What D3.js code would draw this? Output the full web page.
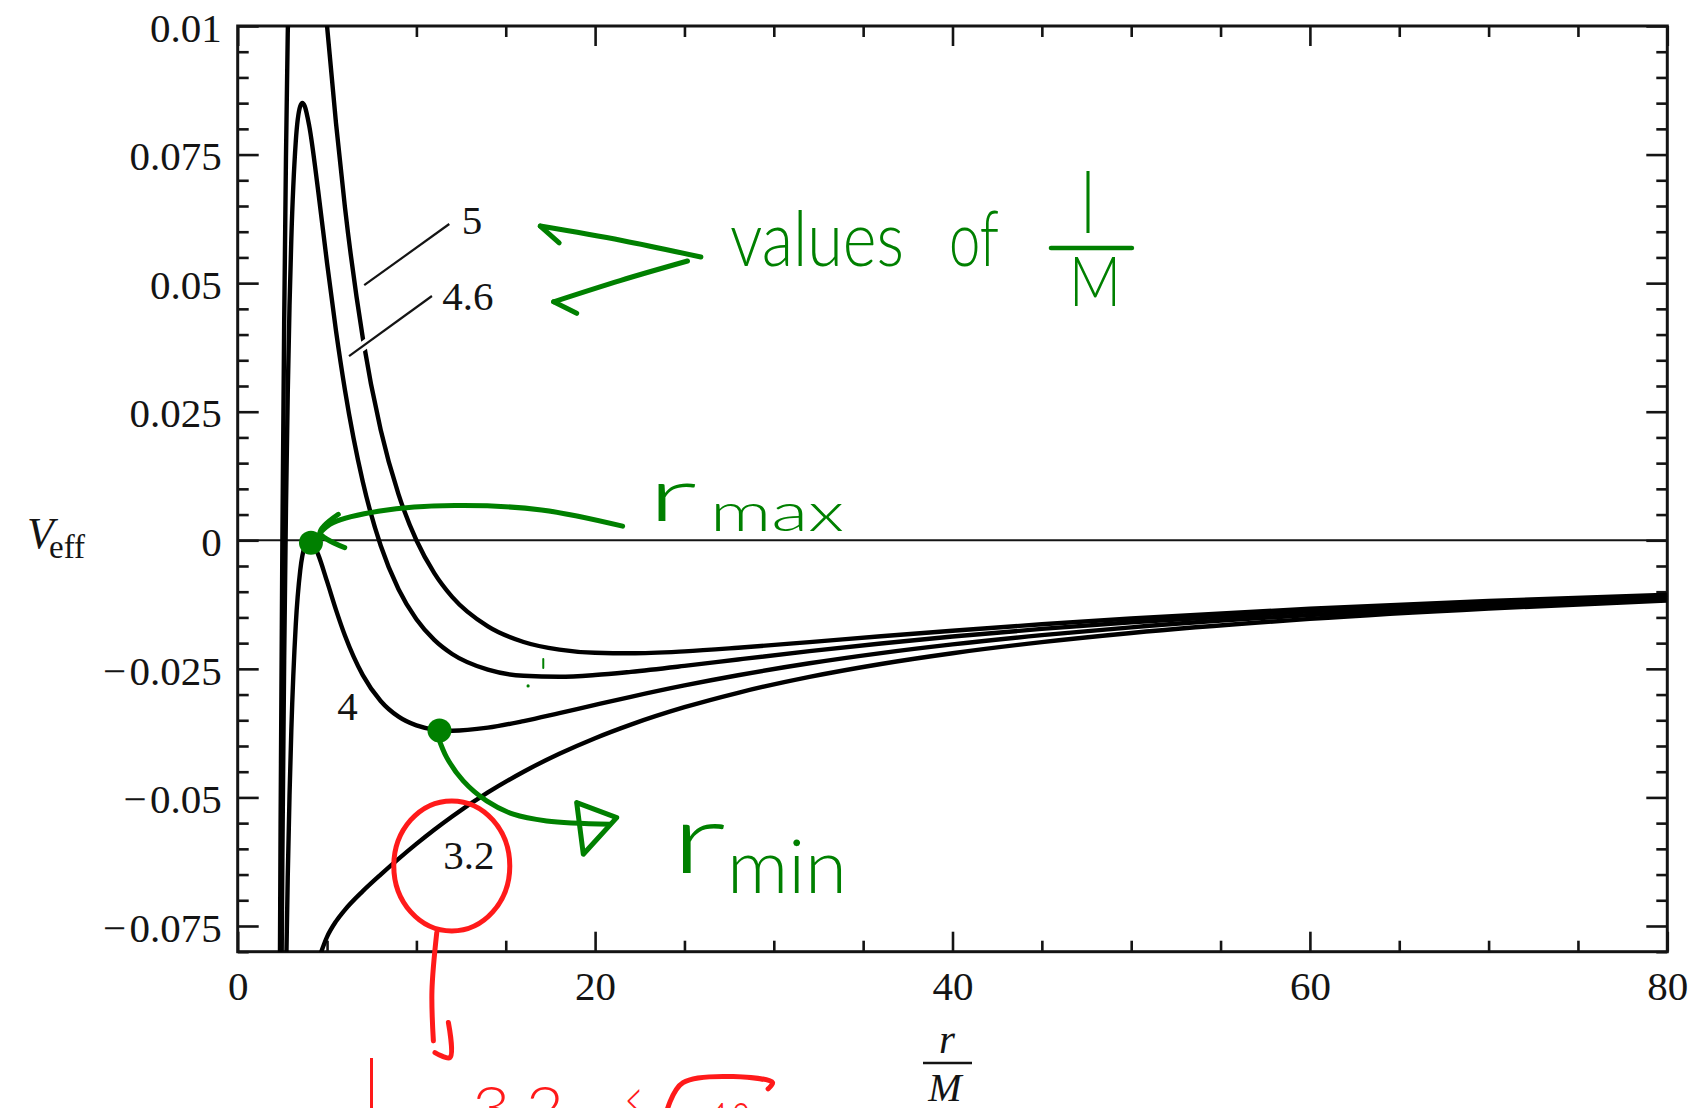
<!DOCTYPE html>
<html>
<head>
<meta charset="utf-8">
<script src="https://cdn.jsdelivr.net/npm/d3@7"></script>
<style>
  html, body { margin: 0; padding: 0; background: #fff; }
  svg { display: block; }
</style>
</head>
<body>
<svg id="chart" width="1698" height="1108"></svg>
<script>
// ---------------- DATA ----------------
// angular momentum values l/M labelling the curves
const curveNames = ["5", "4.6", "4", "3.2"];

// l/M = 5
const r5 = [2.3, 2.4, 2.5, 2.6, 2.7, 2.8, 2.9, 3, 3.25, 3.5, 3.75, 4, 4.5, 5, 5.5, 6, 7, 8, 9, 10, 11, 12, 14, 16, 18, 20, 22, 25, 28, 32, 36, 40, 45, 50, 60, 70, 80];
const v5 = [-0.12658, -0.05498, 0, 0.04210, 0.07418, 0.09840, 0.11645, 0.12963, 0.14747, 0.15160, 0.14815, 0.14063, 0.12072, 0.1, 0.08113, 0.06481, 0.03937, 0.02149, 0.00892, 0, -0.00638, -0.01101, -0.01675, -0.01978, -0.02126, -0.02188, -0.02198, -0.0216, -0.0209, -0.0198, -0.01866, -0.01758, -0.01632, -0.0152, -0.01331, -0.01181, -0.0106];

// l/M = 4.6
const r46 = [2.4, 2.5, 2.6, 2.7, 2.8, 2.9, 3, 3.25, 3.5, 3.62, 3.75, 4, 4.5, 5, 5.5, 6, 7, 8, 9, 10, 11, 12, 14, 16, 18, 20, 22, 25, 28, 32, 36, 40, 45, 50, 60, 70, 80];
const v46 = [-0.11054, -0.06144, -0.02345, 0.00589, 0.02842, 0.0456, 0.05852, 0.07756, 0.08443, 0.08506, 0.08443, 0.08063, 0.06804, 0.05392, 0.04074, 0.02925, 0.01138, -0.00102, -0.00952, -0.01536, -0.01937, -0.02211, -0.02516, -0.02634, -0.02653, -0.0262, -0.02558, -0.02443, -0.02318, -0.02156, -0.02007, -0.01872, -0.01723, -0.01594, -0.01383, -0.01219, -0.01089];

// l/M = 4
const r4 = [2.6, 2.7, 2.8, 2.9, 3, 3.25, 3.5, 3.75, 4, 4.25, 4.5, 5, 5.5, 6, 7, 8, 9, 10, 11, 12, 14, 16, 18, 20, 22, 25, 28, 32, 36, 40, 45, 50, 60, 70, 80];
const v4 = [-0.11152, -0.08586, -0.0656, -0.04961, -0.03704, -0.01639, -0.00583, -0.00119, 0, -0.00082, -0.00274, -0.008, -0.01353, -0.01852, -0.02623, -0.03125, -0.0343, -0.036, -0.03681, -0.03704, -0.03644, -0.03516, -0.0336, -0.032, -0.03043, -0.02822, -0.02624, -0.02392, -0.02194, -0.02025, -0.01845, -0.01693, -0.01452, -0.0127, -0.01128];

// l/M = 3.2
const r32 = [4.5, 5, 5.5, 6, 7, 8, 9, 10, 11, 12, 14, 16, 18, 20, 22, 25, 28, 32, 36, 40, 45, 50, 60, 70, 80];
const v32 = [-0.08176, -0.07712, -0.07411, -0.07185, -0.06822, -0.065, -0.06195, -0.05904, -0.05629, -0.0537, -0.04904, -0.045, -0.04151, -0.03848, -0.03584, -0.03246, -0.02965, -0.02656, -0.02405, -0.02196, -0.01981, -0.01803, -0.01529, -0.01327, -0.01172];

// axis ticks and labels
const xMajorTicks = [0, 20, 40, 60, 80];
const xMajorLabels = ["0", "20", "40", "60", "80"];
const xMinorTicks = [5, 10, 15, 25, 30, 35, 45, 50, 55, 65, 70, 75];
const yMajorTicks = [-0.075, -0.05, -0.025, 0, 0.025, 0.05, 0.075, 0.1];
const yMajorLabels = ["\u2212\u200a0.075", "\u2212\u200a0.05", "\u2212\u200a0.025", "0", "0.025", "0.05", "0.075", "0.01"];
const yMinorTicks = [-0.08, -0.07, -0.065, -0.06, -0.055, -0.045, -0.04, -0.035, -0.03, -0.02, -0.015, -0.01, -0.005,
                     0.005, 0.01, 0.015, 0.02, 0.03, 0.035, 0.04, 0.045, 0.055, 0.06, 0.065, 0.07, 0.08, 0.085, 0.09, 0.095];

// ---------------- LAYOUT ----------------
const svg = d3.select("#chart");
const X0 = 237.7, X1 = 1667.3, Y0 = 26, Y1 = 951.7;
const x = d3.scaleLinear().domain([0, 80]).range([X0, X1]);
const y = d3.scaleLinear().domain([-0.08, 0.1]).range([Y1, Y0]);
const P = (r, v) => [x(r), y(v)];

const serif = "'Liberation Serif', 'Times New Roman', Times, serif";
const hand = "Lato, Inter, 'Open Sans', 'DejaVu Sans', sans-serif";
const GREEN = "#008000", RED = "#ff1a1a", INK = "#141414";

svg.append("rect").attr("width", 1698).attr("height", 1108).attr("fill", "#fff");

svg.append("defs").append("clipPath").attr("id", "plotclip")
  .append("rect").attr("x", X0).attr("y", Y0).attr("width", X1 - X0).attr("height", Y1 - Y0);

// ---------------- AXES ----------------
function styleAxis(g, withText) {
  g.select(".domain").remove();
  g.selectAll(".tick line").attr("stroke", INK).attr("stroke-width", 2.6);
  if (withText) {
    g.selectAll(".tick text").attr("fill", INK).attr("font-family", serif).attr("font-size", 41);
  } else {
    g.selectAll(".tick text").remove();
  }
}

// bottom
svg.append("g").attr("transform", `translate(0,${Y1})`)
  .call(d3.axisBottom(x).tickValues(xMinorTicks).tickSize(-11).tickFormat(""))
  .call(g => styleAxis(g, false));
svg.append("g").attr("transform", `translate(0,${Y1})`)
  .call(d3.axisBottom(x).tickValues(xMajorTicks).tickSize(-20).tickPadding(19)
    .tickFormat((d, i) => xMajorLabels[i]))
  .call(g => styleAxis(g, true));
// top
svg.append("g").attr("transform", `translate(0,${Y0})`)
  .call(d3.axisTop(x).tickValues(xMinorTicks).tickSize(-11).tickFormat(""))
  .call(g => styleAxis(g, false));
svg.append("g").attr("transform", `translate(0,${Y0})`)
  .call(d3.axisTop(x).tickValues(xMajorTicks).tickSize(-20).tickFormat(""))
  .call(g => styleAxis(g, false));
// left
svg.append("g").attr("transform", `translate(${X0},0)`)
  .call(d3.axisLeft(y).tickValues(yMinorTicks).tickSize(-11).tickFormat(""))
  .call(g => styleAxis(g, false));
svg.append("g").attr("transform", `translate(${X0},0)`)
  .call(d3.axisLeft(y).tickValues(yMajorTicks).tickSize(-21).tickPadding(16)
    .tickFormat((d, i) => yMajorLabels[i]))
  .call(g => styleAxis(g, true))
  .call(g => g.selectAll(".tick text").attr("dy", "0.37em"));
// right
svg.append("g").attr("transform", `translate(${X1},0)`)
  .call(d3.axisRight(y).tickValues(yMinorTicks).tickSize(-11).tickFormat(""))
  .call(g => styleAxis(g, false));
svg.append("g").attr("transform", `translate(${X1},0)`)
  .call(d3.axisRight(y).tickValues(yMajorTicks).tickSize(-21).tickFormat(""))
  .call(g => styleAxis(g, false));

// frame
svg.append("rect").attr("x", X0).attr("y", Y0).attr("width", X1 - X0).attr("height", Y1 - Y0)
  .attr("fill", "none").attr("stroke", INK).attr("stroke-width", 3);

// zero line
svg.append("line").attr("x1", x(0)).attr("x2", x(80)).attr("y1", y(0)).attr("y2", y(0))
  .attr("stroke", INK).attr("stroke-width", 2);

// ---------------- CURVES ----------------
const series = [
  { name: curveNames[0], r: r5, v: v5 },
  { name: curveNames[1], r: r46, v: v46 },
  { name: curveNames[2], r: r4, v: v4 },
  { name: curveNames[3], r: r32, v: v32 }
];
const line = d3.line().x(d => x(d[0])).y(d => y(d[1])).curve(d3.curveMonotoneX);
const curveG = svg.append("g").attr("clip-path", "url(#plotclip)");
curveG.selectAll("path.curve").data(series).join("path")
  .attr("class", "curve")
  .attr("d", s => line(s.r.map((r, i) => [r, s.v[i]])))
  .attr("fill", "none").attr("stroke", "#000").attr("stroke-width", 4.4)
  .attr("stroke-linejoin", "round");

// leader lines for "5" and "4.6" (white halo breaks the curve beneath)
const leaders = [
  { from: [7.08, 0.0496], to: [11.84, 0.0615] },
  { from: [6.23, 0.0358], to: [10.87, 0.0475] }
];
leaders.forEach(ld => {
  const a = P(...ld.from), b = P(...ld.to);
  svg.append("line").attr("x1", a[0]).attr("y1", a[1]).attr("x2", b[0]).attr("y2", b[1])
    .attr("stroke", "#fff").attr("stroke-width", 9);
  svg.append("line").attr("x1", a[0]).attr("y1", a[1]).attr("x2", b[0]).attr("y2", b[1])
    .attr("stroke", INK).attr("stroke-width", 2.2);
});

// curve labels
const curveLabelPos = [[12.54, 0.0595], [11.45, 0.0448], [5.57, -0.0349], [11.5, -0.0639]];
curveNames.forEach((n, i) => {
  const p = P(...curveLabelPos[i]);
  svg.append("text").attr("x", p[0]).attr("y", p[1]).text(n)
    .attr("font-family", serif).attr("font-size", 41).attr("fill", INK);
});

// ---------------- AXIS TITLES ----------------
const vlab = svg.append("text").attr("font-family", serif).attr("fill", INK);
vlab.append("tspan").attr("x", 27).attr("y", 548).attr("font-size", 44).attr("font-style", "italic").text("V");
vlab.append("tspan").attr("x", 49).attr("y", 558).attr("font-size", 33).text("eff");

svg.append("text").attr("x", 947).attr("y", 1053).attr("text-anchor", "middle")
  .attr("font-family", serif).attr("font-size", 41).attr("font-style", "italic").attr("fill", INK).text("r");
svg.append("line").attr("x1", 923).attr("x2", 972).attr("y1", 1063).attr("y2", 1063)
  .attr("stroke", INK).attr("stroke-width", 2.4);
svg.append("text").attr("x", 945).attr("y", 1101).attr("text-anchor", "middle")
  .attr("font-family", serif).attr("font-size", 40).attr("font-style", "italic").attr("fill", INK).text("M");

// ---------------- HAND-DRAWN ANNOTATIONS ----------------
const ann = svg.append("g").attr("fill", "none").attr("stroke-linecap", "round").attr("stroke-linejoin", "round");
const pen = d3.line().x(d => x(d[0])).y(d => y(d[1])).curve(d3.curveCatmullRom);
function stroke(pts, color, w) {
  ann.append("path").attr("d", pen(pts)).attr("stroke", color).attr("stroke-width", w || 5).attr("fill", "none");
}
function htext(r, v, str, size, len, color, anchor) {
  const p = P(r, v);
  const t = svg.append("text").attr("x", p[0]).attr("y", p[1]).text(str)
    .attr("font-family", hand).attr("font-weight", 300).attr("font-size", size).attr("fill", color || GREEN)
    .attr("text-anchor", anchor || "start");
  if (len) t.attr("textLength", len).attr("lengthAdjust", "spacingAndGlyphs");
  return t;
}

// "values of l/M" with two arrows
stroke([[25.92, 0.05507], [21.5, 0.0583], [16.93, 0.0611]], GREEN, 5);
stroke([[16.93, 0.0611], [17.99, 0.05785]], GREEN, 5);
stroke([[25.17, 0.0543], [21.4, 0.0505], [17.68, 0.04638]], GREEN, 5);
stroke([[17.68, 0.04638], [18.97, 0.04413]], GREEN, 5);
htext(27.55, 0.05333, "values", 76, 174);
htext(39.8, 0.05333, "of", 76, 50);
htext(47.58, 0.0597, "l", 84, 14, GREEN, "middle");
stroke([[45.51, 0.05682], [50.04, 0.05682]], GREEN, 4.5);
htext(47.97, 0.04549, "M", 68, 52, GREEN, "middle");

// r_max
ann.append("circle").attr("cx", x(4.1)).attr("cy", y(-0.00047)).attr("r", 12).attr("fill", GREEN);
stroke([[21.54, 0.00274], [17.0, 0.00589], [12.16, 0.00675], [7.96, 0.0057], [5.33, 0.00342], [4.61, 0.00148]], GREEN, 5);
stroke([[5.63, 0.00505], [4.61, 0.00148], [5.99, -0.00144]], GREEN, 5);
htext(22.9, 0.00375, "r", 74, 50);
htext(26.43, 0.00181, "max", 54, 134);

// r_min
ann.append("circle").attr("cx", x(11.29)).attr("cy", y(-0.03698)).attr("r", 12).attr("fill", GREEN);
stroke([[11.23, -0.03837], [11.7, -0.04226], [12.62, -0.04679], [13.93, -0.05068], [15.42, -0.05327], [17.29, -0.05457], [20.83, -0.05521]], GREEN, 5);
ann.append("path")
  .attr("d", d3.line().x(d => x(d[0])).y(d => y(d[1]))([[18.97, -0.05101], [21.21, -0.05393], [19.34, -0.06104], [18.97, -0.05101]]))
  .attr("stroke", GREEN).attr("stroke-width", 5).attr("fill", "none");
htext(24.19, -0.06467, "r", 96, 56);
htext(27.38, -0.06856, "min", 74, 120);

// small stray green marks
stroke([[17.1, -0.02307], [17.1, -0.02482]], GREEN, 2);
ann.append("circle").attr("cx", x(16.25)).attr("cy", y(-0.02832)).attr("r", 1.6).attr("fill", GREEN);

// red circle around 3.2 and arrow to the note below
ann.append("ellipse").attr("cx", x(11.98)).attr("cy", y(-0.06332)).attr("rx", 58).attr("ry", 65)
  .attr("stroke", RED).attr("stroke-width", 5);
stroke([[11.14, -0.07628], [10.87, -0.08762], [10.95, -0.09734]], RED, 5);
stroke([[11.79, -0.09378], [11.88, -0.10058], [11.04, -0.09961]], RED, 5);

// red note (cut off by the bottom edge)
htext(7.49, -0.1135, "l", 90, 14, RED, "middle");
htext(13.11, -0.1146, "3.2", 62, 92, RED);
htext(21.67, -0.1129, "<", 60, 18, RED);
stroke([[23.94, -0.1119], [24.92, -0.10544], [29.93, -0.10544], [29.68, -0.10667]], RED, 5);
htext(26.49, -0.1164, "12", 52, 40, RED);
</script>
</body>
</html>
